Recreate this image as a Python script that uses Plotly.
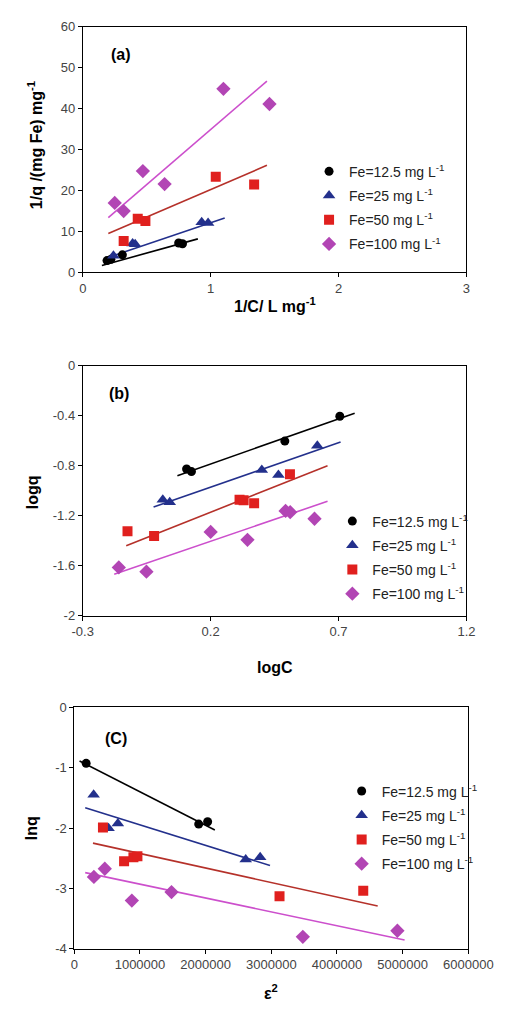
import plotly.graph_objects as go

# ---------------- data ----------------
series_names = ["Fe=12.5 mg L<sup>-1</sup>", "Fe=25 mg L<sup>-1</sup>",
                "Fe=50 mg L<sup>-1</sup>", "Fe=100 mg L<sup>-1</sup>"]

# panel (a): 1/C vs 1/q
a_x_125 = [0.19, 0.22, 0.31, 0.75, 0.78]
a_y_125 = [2.8, 3.1, 4.2, 7.1, 6.9]
a_x_25 = [0.24, 0.39, 0.41, 0.93, 0.98]
a_y_25 = [4.0, 7.0, 6.8, 12.2, 12.0]
a_x_50 = [0.32, 0.43, 0.49, 1.04, 1.34]
a_y_50 = [7.6, 13.0, 12.5, 23.3, 21.4]
a_x_100 = [0.25, 0.32, 0.47, 0.64, 1.10, 1.46]
a_y_100 = [16.9, 14.9, 24.7, 21.5, 44.8, 41.1]
a_fit_x = [[0.15, 0.90], [0.22, 1.11], [0.20, 1.44], [0.20, 1.44]]
a_fit_y = [[1.6, 8.1], [3.8, 13.2], [9.4, 26.1], [13.3, 46.7]]

# panel (b): logC vs logq
b_x_125 = [0.106, 0.125, 0.49, 0.705]
b_y_125 = [-0.826, -0.847, -0.603, -0.405]
b_x_25 = [0.013, 0.040, 0.40, 0.465, 0.617]
b_y_25 = [-1.071, -1.092, -0.834, -0.874, -0.64]
b_x_50 = [-0.125, -0.021, 0.313, 0.329, 0.370, 0.51]
b_y_50 = [-1.324, -1.361, -1.071, -1.076, -1.10, -0.868]
b_x_100 = [-0.159, -0.051, 0.20, 0.344, 0.493, 0.511, 0.606]
b_y_100 = [-1.613, -1.647, -1.329, -1.392, -1.161, -1.171, -1.224]
b_fit_x = [[0.070, 0.763], [-0.023, 0.708], [-0.13, 0.657], [-0.177, 0.657]]
b_fit_y = [[-0.88, -0.38], [-1.129, -0.611], [-1.44, -0.80], [-1.668, -1.084]]

# panel (c): eps^2 vs lnq
c_x_125 = [180000, 1894000, 2030000]
c_y_125 = [-0.925, -1.932, -1.894]
c_x_25 = [294000, 521000, 663000, 2610000, 2830000]
c_y_25 = [-1.448, -2.003, -1.921, -2.52, -2.48]
c_x_50 = [436000, 758000, 900000, 961000, 3125000, 4400000]
c_y_50 = [-1.99, -2.547, -2.48, -2.465, -3.13, -3.037]
c_x_100 = [298000, 464000, 876000, 1480000, 3480000, 4920000]
c_y_100 = [-2.808, -2.672, -3.20, -3.059, -3.80, -3.70]
c_fit_x = [[80000, 2140000], [166000, 2980000], [284000, 4620000], [166000, 5030000]]
c_fit_y = [[-0.887, -2.03], [-1.66, -2.618], [-2.248, -3.29], [-2.737, -3.853]]

# tick labels
a_xticks = [0, 1, 2, 3]
a_yticks = [0, 10, 20, 30, 40, 50, 60]
b_xticks = [-0.3, 0.2, 0.7, 1.2]
b_xtext = ["-0.3", "0.2", "0.7", "1.2"]
b_yticks = [0, -0.4, -0.8, -1.2, -1.6, -2]
b_ytext = ["0", "-0.4", "-0.8", "-1.2", "-1.6", "-2"]
c_xticks = [0, 1000000, 2000000, 3000000, 4000000, 5000000, 6000000]
c_xtext = ["0", "1000000", "2000000", "3000000", "4000000", "5000000", "6000000"]
c_yticks = [0, -1, -2, -3, -4]
c_ytext = ["0", "-1", "-2", "-3", "-4"]

# ---------------- styles ----------------
marker_colors = ["#000000", "#23308C", "#E0201E", "#B245B4"]
line_colors = ["#000000", "#23308C", "#B5312A", "#CC4FCC"]
symbols = ["circle", "triangle-up", "square", "diamond"]
sizes = [9, 11, 10, 11]
FONT = "Liberation Sans, Arial, sans-serif"

fig = go.Figure()

panels = [
    ("x", "y", "legend", [a_x_125, a_x_25, a_x_50, a_x_100], [a_y_125, a_y_25, a_y_50, a_y_100], a_fit_x, a_fit_y),
    ("x2", "y2", "legend2", [b_x_125, b_x_25, b_x_50, b_x_100], [b_y_125, b_y_25, b_y_50, b_y_100], b_fit_x, b_fit_y),
    ("x3", "y3", "legend3", [c_x_125, c_x_25, c_x_50, c_x_100], [c_y_125, c_y_25, c_y_50, c_y_100], c_fit_x, c_fit_y),
]

for p, (xa, ya, lg, xs, ys, fx, fy) in enumerate(panels):
    for i in range(4):
        fig.add_trace(go.Scatter(x=fx[i], y=fy[i], mode="lines", xaxis=xa, yaxis=ya,
                                 line=dict(color=line_colors[i], width=1.6),
                                 showlegend=False, hoverinfo="skip"))
    for i in range(4):
        fig.add_trace(go.Scatter(x=xs[i], y=ys[i], mode="markers", xaxis=xa, yaxis=ya,
                                 name=series_names[i], legend=lg, legendgroup=f"g{p}{i}",
                                 marker=dict(symbol=symbols[i], size=sizes[i],
                                             color=marker_colors[i], line=dict(width=0))))

axis_common = dict(showline=True, linecolor="#000000", linewidth=1, mirror=True,
                   ticks="outside", ticklen=4, tickcolor="#000000", showgrid=False,
                   zeroline=False, tickfont=dict(family=FONT, size=13, color="#444444"))

fig.update_layout(
    width=525, height=1012, margin=dict(l=0, r=0, t=0, b=0),
    paper_bgcolor="white", plot_bgcolor="white",
    font=dict(family=FONT, color="#000000"),
    xaxis=dict(domain=[0.1467, 0.9314], range=[0, 3], tickvals=a_xticks, anchor="y", **axis_common),
    yaxis=dict(domain=[0.7342, 0.9802], range=[0, 60], tickvals=a_yticks, anchor="x", **axis_common),
    xaxis2=dict(domain=[0.1467, 0.9314], range=[-0.3, 1.2], tickvals=b_xticks, ticktext=b_xtext, anchor="y2", **axis_common),
    yaxis2=dict(domain=[0.3893, 0.6403], range=[-2, 0], tickvals=b_yticks, ticktext=b_ytext, anchor="x2", **axis_common),
    xaxis3=dict(domain=[0.1295, 0.9352], range=[0, 6000000], tickvals=c_xticks, ticktext=c_xtext, anchor="y3", **axis_common),
    yaxis3=dict(domain=[0.0553, 0.2974], range=[-4, 0], tickvals=c_yticks, ticktext=c_ytext, anchor="x3", **axis_common),
)

leg_common = dict(bgcolor="rgba(0,0,0,0)", borderwidth=0, xanchor="left", yanchor="top",
                  font=dict(family=FONT, size=14, color="#222222"), tracegroupgap=3, itemwidth=30)
fig.update_layout(
    legend=dict(x=320 / 525, y=1 - 151 / 1012, **leg_common),
    legend2=dict(x=345 / 525, y=1 - 506 / 1012, **leg_common),
    legend3=dict(x=355 / 525, y=1 - 780 / 1012, **leg_common),
)

def ann(text, px, py, size=16, bold=True, angle=0):
    t = f"<b>{text}</b>" if bold else text
    fig.add_annotation(text=t, x=px / 525, y=1 - py / 1012, xref="paper", yref="paper",
                       showarrow=False, textangle=angle, xanchor="center", yanchor="middle",
                       font=dict(family=FONT, size=size, color="#000000"))

# panel labels
ann("(a)", 118, 48)
ann("(b)", 116, 392)
ann("(C)", 113, 743)
# axis titles
ann("1/C/ L mg<sup>-1</sup>", 283, 302)
ann("1/q /(mg Fe) mg<sup>-1</sup>", 26, 140, angle=-90)
ann("logC", 283, 670)
ann("logq", 23, 492, angle=-90)
ann("ε<sup>2</sup>", 279, 1000)
ann("lnq", 22, 833, angle=-90)

fig.write_html("out.html")
